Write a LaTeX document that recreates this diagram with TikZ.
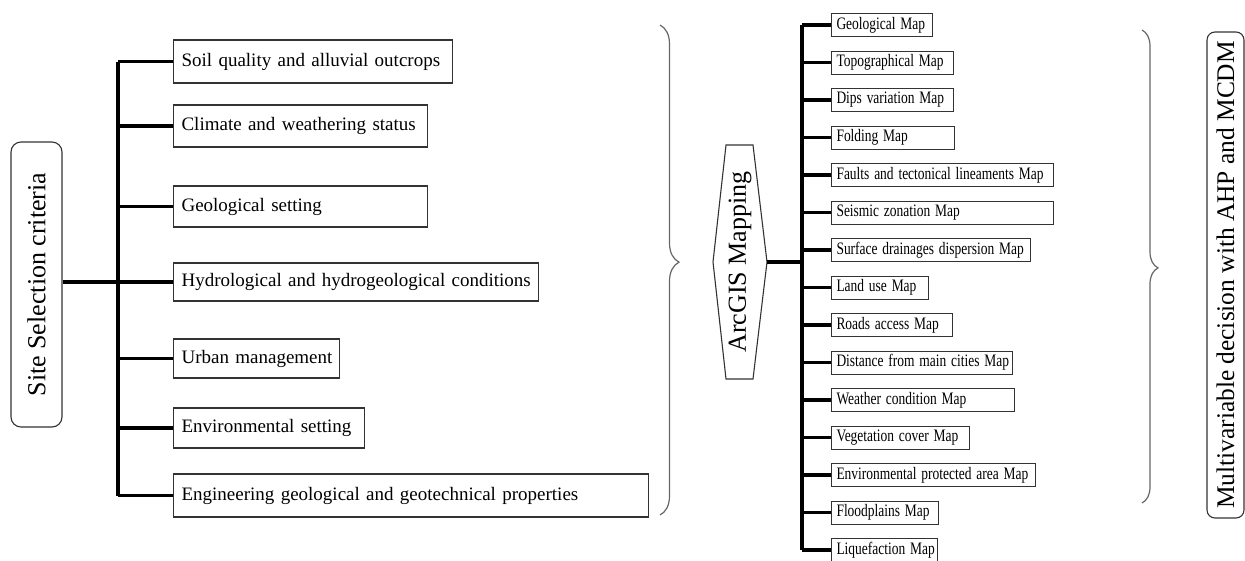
\documentclass[tikz,border=0pt]{standalone}
\usepackage{fontspec}
\setmainfont{Liberation Serif}
\newfontfamily\narrowserif[FakeStretch=0.77]{Liberation Serif}
\usetikzlibrary{decorations.pathreplacing}

\tikzset{
  oneline/.style={execute at begin node={\hbox to \hsize\bgroup#1}, execute at end node={\hfil\egroup}},
  oneline/.default={},
  critbox/.style={draw=black!80, line width=1.1pt, anchor=west, inner xsep=8pt, inner ysep=0pt, align=left, oneline, font=\fontsize{19}{22}\selectfont},
  mapbox/.style={draw=black!80, line width=1pt, anchor=west, inner xsep=5pt, inner ysep=0pt, minimum height=23pt, align=left, oneline={\spaceskip=4.8pt\relax}, font=\narrowserif\fontsize{17.5}{20}\selectfont},
  headbox/.style={draw=black!80, line width=1.1pt, rounded corners=#1, inner sep=0pt, font=\fontsize{26}{30}\selectfont},
  link/.style={line width=3.2pt},
  bracket/.style={draw=black!60, line width=1.2pt, decorate, decoration={brace, amplitude=#1}},
}

\begin{document}
\begin{tikzpicture}[x=1pt, y=-1pt]
  \useasboundingbox (0,0) rectangle (1245,560);

  % site selection side
  \node[headbox=10pt, minimum width=51pt, minimum height=285pt] (sitesel) at (36.5,284.5) {\rotatebox{90}{Site Selection criteria}};
  \coordinate (ltrunk) at (118,0);

  \node[critbox, text width=263pt, minimum height=43pt] (soil) at (173,61.5) {Soil quality and alluvial outcrops};
  \node[critbox, text width=238pt, minimum height=42pt] (climate) at (173,126) {Climate and weathering status};
  \node[critbox, text width=238pt, minimum height=41pt] (geoset) at (173,206.5) {Geological setting};
  \node[critbox, text width=349pt, minimum height=38pt] (hydro) at (173,282) {Hydrological and hydrogeological conditions};
  \node[critbox, text width=150pt, minimum height=39pt] (urban) at (173,358.5) {Urban management};
  \node[critbox, text width=175pt, minimum height=40pt] (envset) at (173,428) {Environmental setting};
  \node[critbox, text width=459pt, minimum height=43pt] (engg) at (173,495.5) {Engineering geological and geotechnical properties};

  \draw[link] (soil.west -| ltrunk) -- (engg.west -| ltrunk);
  \foreach \crit in {soil, climate, geoset, hydro, urban, envset, engg}
    \draw[link] (\crit.west -| ltrunk) -- (\crit.west);
  \draw[link] (sitesel.east |- hydro.west) -- (hydro.west -| ltrunk);

  \draw[bracket=19pt, decoration={aspect=0.484}] (660,25) -- (660,515);

  % ArcGIS side
  \node[font=\fontsize{26}{30}\selectfont, inner sep=0pt] (arcgis) at (740,262) {\rotatebox{90}{ArcGIS Mapping}};
  \draw[draw=black!80, line width=1.1pt] (726,145) -- (753,145) -- (767,262) -- (753,379) -- (726,379) -- (713,262) -- cycle;
  \coordinate (arcgisR) at (767,262);
  \coordinate (rtrunk) at (802,0);

  \foreach \txt/\bw [count=\i] in {Geological Map/91, Topographical Map/112, Dips variation Map/112, Folding Map/113,
      Faults and tectonical lineaments Map/212, Seismic zonation Map/212, Surface drainages dispersion Map/189,
      Land use Map/87, Roads access Map/111, Distance from main cities Map/171, Weather condition Map/173,
      Vegetation cover Map/128, Environmental protected area Map/194, Floodplains Map/97, Liquefaction Map/96}
  {
    \node[mapbox, text width=\bw pt] (map\i) at (831,{25+37.5*(\i-1)}) {\txt};
    \draw[link] (map\i.west -| rtrunk) -- (map\i.west);
  }
  \draw[link] (map1.west -| rtrunk) -- (map15.west -| rtrunk);
  \draw[link] (arcgisR) -- (arcgisR -| rtrunk);

  \draw[bracket=16pt, decoration={aspect=0.503}] (1142,30) -- (1142,503);

  % decision
  \node[headbox=8pt, font=\fontsize{25.4}{30}\selectfont, minimum width=37pt, minimum height=486pt] (mcdm) at (1225.5,275) {\rotatebox{90}{Multivariable decision with AHP and MCDM}};
\end{tikzpicture}
\end{document}
